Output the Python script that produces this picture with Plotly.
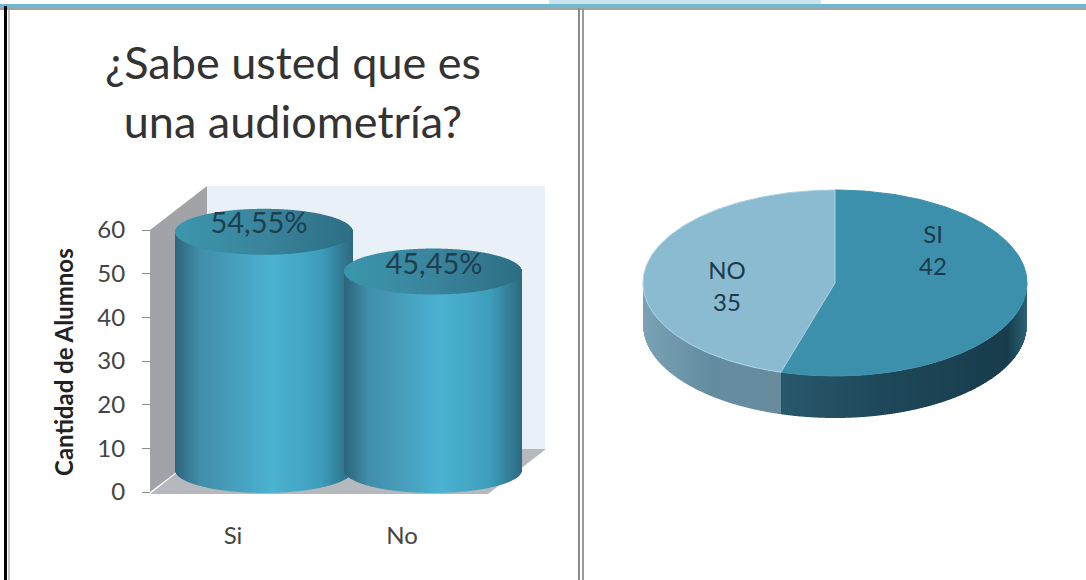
import numpy as np
import plotly.graph_objects as go

# Data
categories = ["Si", "No"]
percentages = [54.55, 45.45]
pie_labels = ["SI", "NO"]
pie_counts = [42, 35]
value_ticks = [0, 10, 20, 30, 40, 50, 60]

W, H = 1086, 580
PX_ZERO, PX_SIXTY = 492, 230
PX_PER_UNIT = (PX_ZERO - PX_SIXTY) / 60


def mix(stops, t):
    """Interpolate a colour along (position, (r, g, b)) stops."""
    pos = [s[0] for s in stops]
    rgb = [np.interp(t, pos, [s[1][i] for s in stops]) for i in range(3)]
    return "rgb(%d,%d,%d)" % tuple(int(round(c)) for c in rgb)


BODY = [(0, (44, 100, 124)), (0.14, (66, 142, 170)), (0.55, (75, 178, 210)),
        (0.82, (62, 158, 188)), (1, (44, 104, 128))]
CAP = [(0, (58, 150, 172)), (0.5, (58, 132, 156)), (1, (44, 110, 132))]
SIDE_SI = [(0, (40, 88, 108)), (0.4, (30, 72, 90)), (0.92, (24, 60, 76)), (1, (44, 98, 118))]
SIDE_NO = [(0, (122, 162, 180)), (0.5, (100, 140, 160)), (1, (104, 140, 158))]

fig = go.Figure()

# Cylinders: each one is a run of narrow columns whose shade follows the curvature.
slot_centers = [233, 402]
CYL_SHIFT, CYL_HALF = 31, 89
FLOOR = (PX_ZERO - 470) / PX_PER_UNIT
RIM = 23 / PX_PER_UNIT
STEP = 1

for center, pct in zip(slot_centers, percentages):
    cx = center + CYL_SHIFT
    xs = np.arange(cx - CYL_HALF + STEP / 2, cx + CYL_HALF, STEP)
    u = (xs - cx) / CYL_HALF
    arc = RIM * np.sqrt(np.clip(1 - u ** 2, 0, 1))
    shade = (u + 1) / 2
    top = FLOOR + pct
    fig.add_trace(go.Bar(
        x=xs, y=top - (FLOOR - arc), base=FLOOR - arc, width=STEP,
        marker=dict(color=[mix(BODY, t) for t in shade], line=dict(width=0)),
        showlegend=False, hoverinfo="skip"))
    fig.add_trace(go.Bar(
        x=xs, y=2 * arc, base=top - arc, width=STEP,
        marker=dict(color=[mix(CAP, t) for t in shade], line=dict(width=0)),
        showlegend=False, hoverinfo="skip"))

fig.add_trace(go.Scatter(
    x=[slot_centers[0] + 26, slot_centers[1] + 32],
    y=[FLOOR + percentages[0] + 1.5, FLOOR + percentages[1] + 1.2],
    mode="text", text=[f"{p:.2f}".replace(".", ",") + "%" for p in percentages],
    textfont=dict(family="Lato", size=29, color="#1d3f50"),
    showlegend=False, hoverinfo="skip"))

# Pie: a flattened disc with a rim, angles taken from the counts.
PIE_X, PIE_Y, PIE_RX, PIE_RY, PIE_DEPTH = 835, 283, 192, 93, 42
total = sum(pie_counts)
split = 2 * np.pi * pie_counts[0] / total
split_x = PIE_X + PIE_RX * np.sin(split)

side_x = np.arange(PIE_X - PIE_RX + 0.5, PIE_X + PIE_RX, 1)
side_u = (side_x - PIE_X) / PIE_RX
side_base = PIE_Y + PIE_RY * np.sqrt(np.clip(1 - side_u ** 2, 0, 1))
side_colors = []
for x in side_x:
    if x < split_x:
        side_colors.append(mix(SIDE_NO, (x - (PIE_X - PIE_RX)) / (split_x - PIE_X + PIE_RX)))
    else:
        side_colors.append(mix(SIDE_SI, (x - split_x) / (PIE_X + PIE_RX - split_x)))
fig.add_trace(go.Bar(
    x=side_x, y=[PIE_DEPTH] * len(side_x), base=side_base, width=1, yaxis="y2",
    marker=dict(color=side_colors, line=dict(width=0)),
    showlegend=False, hoverinfo="skip"))


def sector(a0, a1):
    t = np.linspace(a0, a1, 160)
    return (np.r_[PIE_X, PIE_X + PIE_RX * np.sin(t), PIE_X],
            np.r_[PIE_Y, PIE_Y - PIE_RY * np.cos(t), PIE_Y])


for (a0, a1), fill, rim in zip([(0, split), (split, 2 * np.pi)], ["#3d90ab", "#8bbbd1"], ["#3d90ab", "#a9d2e3"]):
    sx, sy = sector(a0, a1)
    fig.add_trace(go.Scatter(
        x=sx, y=sy, yaxis="y2", mode="lines", fill="toself", fillcolor=fill,
        line=dict(color=rim, width=1), showlegend=False, hoverinfo="skip"))

fig.add_trace(go.Scatter(
    x=[933, 727], y=[253, 289], yaxis="y2", mode="text",
    text=[f"{n}<br>{c}" for n, c in zip(pie_labels, pie_counts)],
    textfont=dict(family="Lato", size=24, color="#1d3a4c"),
    showlegend=False, hoverinfo="skip"))


def rect(x0, y0, x1, y1, color):
    return dict(type="rect", xref="paper", yref="paper", x0=x0 / W, x1=x1 / W,
                y0=1 - y0 / H, y1=1 - y1 / H, fillcolor=color, line=dict(width=0), layer="below")


def poly(points, color):
    path = "M" + " L".join(f"{x / W:.5f},{1 - y / H:.5f}" for x, y in points) + " Z"
    return dict(type="path", xref="paper", yref="paper", path=path, fillcolor=color,
                line=dict(width=0), layer="below")


shapes = [
    # Slide frame
    rect(549, 0, 821, 4, "#cbe6f0"),
    rect(0, 4, W, 8, "#72b9cf"),
    rect(0, 8, W, 10, "#a3a3a3"),
    rect(4, 6, 7, H, "#000000"),
    rect(8, 10, 10, H, "#c4c4c4"),
    rect(578, 8, 580, H, "#8c8c8c"),
    rect(582, 8, 584, H, "#9a9a9a"),
    # Chart box: back wall, side wall and floor
    rect(207, 186, 545, 449, "#e9f0f7"),
    poly([(150, 230), (207, 186), (207, 449), (150, 492)], "#a1a3a6"),
    poly([(150, 494), (207, 449), (546, 449), (488, 494)], "#b5b9be"),
]

fig.update_layout(
    width=W, height=H, autosize=False, margin=dict(l=0, r=0, t=0, b=0),
    paper_bgcolor="white", plot_bgcolor="rgba(0,0,0,0)", barmode="overlay", showlegend=False,
    title=dict(text="¿Sabe usted que es<br>una audiometría?", x=293 / W, xanchor="center",
               y=1 - 79 / H, yanchor="middle",
               font=dict(family="Lato", size=45, color="#333333")),
    xaxis=dict(range=[0, W], domain=[0, 1], anchor="free", position=1 - 519 / H,
               tickmode="array", tickvals=slot_centers, ticktext=categories, ticks="",
               showgrid=False, zeroline=False, showline=False,
               tickfont=dict(family="Lato", size=24, color="#444444")),
    yaxis=dict(range=[(PX_ZERO - H) / PX_PER_UNIT, PX_ZERO / PX_PER_UNIT], domain=[0, 1],
               anchor="free", position=150 / W, tickmode="array", tickvals=value_ticks,
               ticks="outside", ticklen=8, tickcolor="#8a8a8a", tickwidth=1,
               ticklabelstandoff=12,
               showgrid=False, zeroline=False, showline=False,
               tickfont=dict(family="Lato", size=24, color="#444444")),
    yaxis2=dict(range=[H, 0], domain=[0, 1], overlaying="y", visible=False),
    shapes=shapes,
    annotations=[dict(text="<b>Cantidad de Alumnos</b>", xref="paper", yref="paper",
                      x=63 / W, y=1 - 362 / H, xanchor="center", yanchor="middle",
                      textangle=-90, showarrow=False,
                      font=dict(family="Lato", size=24, color="#222222"))],
)

fig.write_html("out.html")
